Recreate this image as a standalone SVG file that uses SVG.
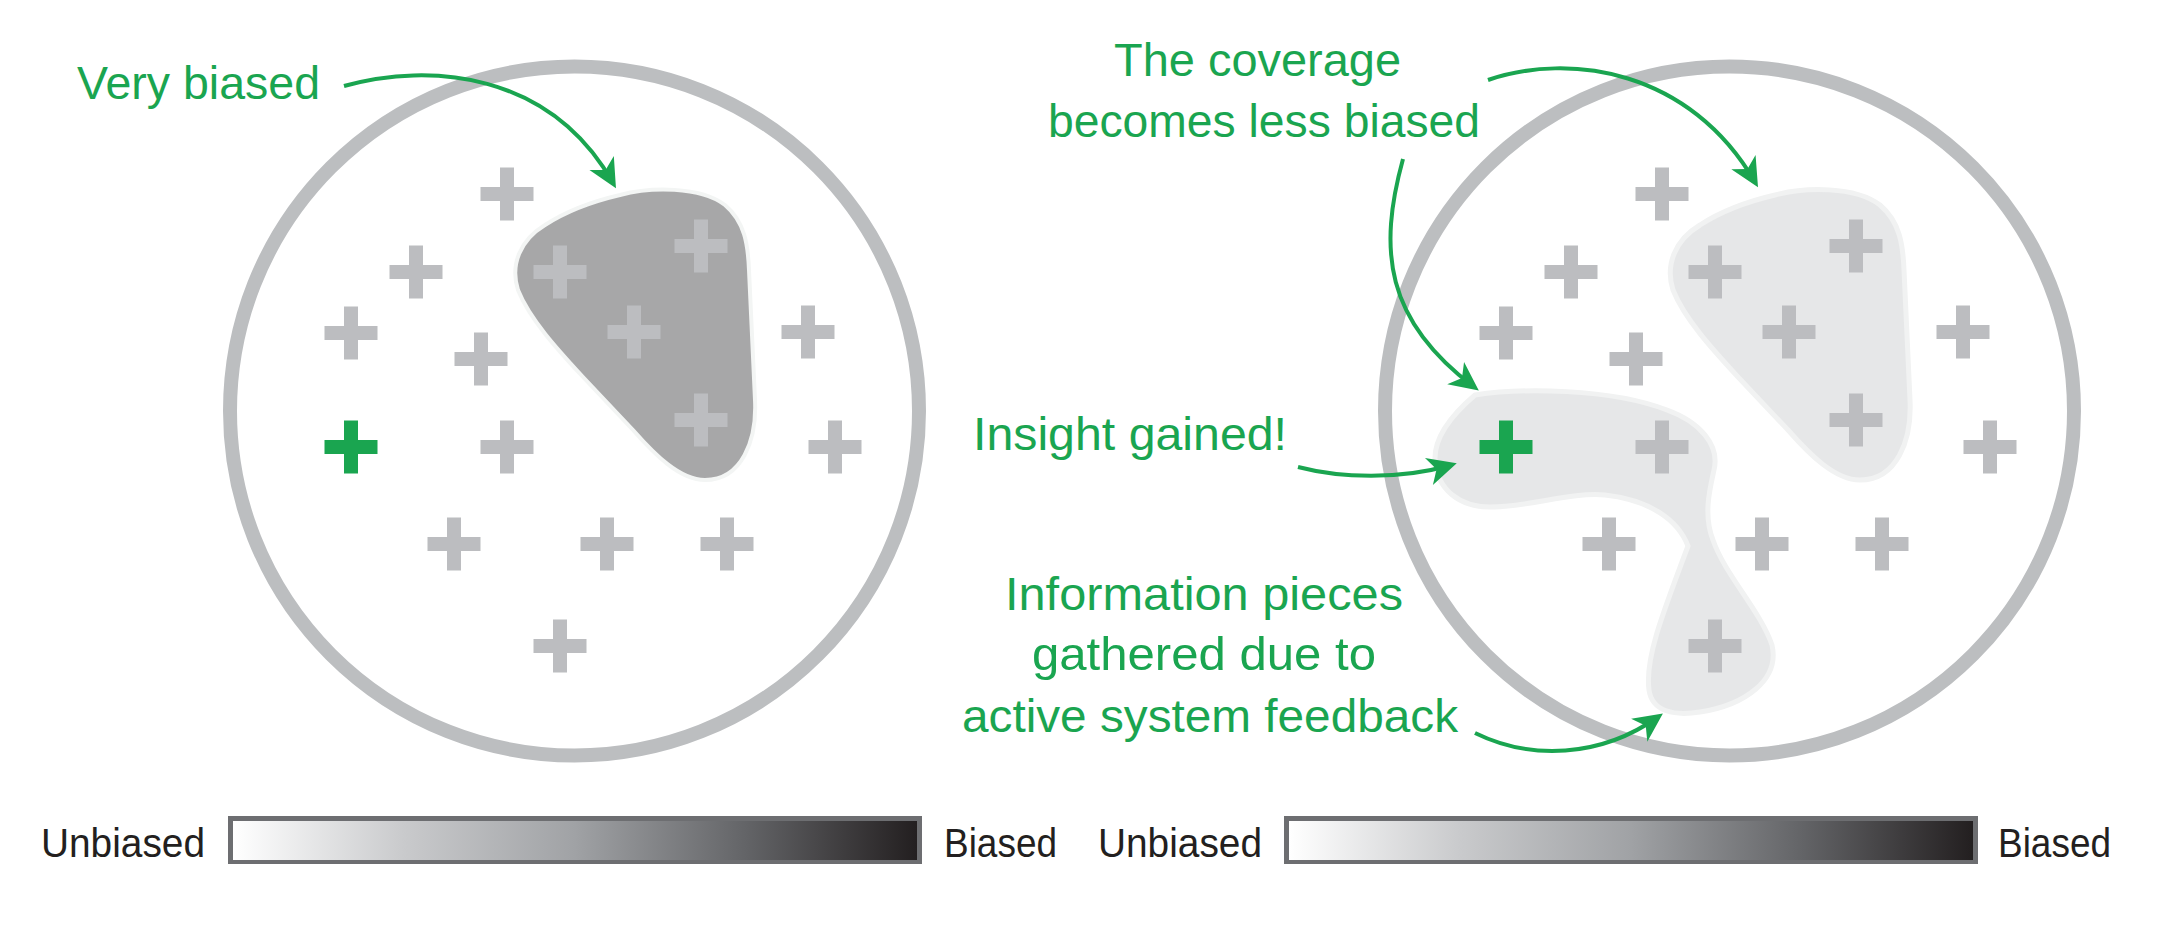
<svg xmlns="http://www.w3.org/2000/svg" xmlns:xlink="http://www.w3.org/1999/xlink" width="2174" height="926" viewBox="0 0 2174 926">
<style>
.ring{fill:none;stroke:#bcbec0;stroke-width:14}
.cross{fill:#bcbdc0}
.cross-g{fill:#1aa550}
.lbl{font-family:"Liberation Sans",Arial,sans-serif;font-size:47px;fill:#1aa550}
.scale{font-family:"Liberation Sans",Arial,sans-serif;font-size:40px;fill:#231f20}
.conn{fill:none;stroke:#1aa550;stroke-width:4;marker-end:url(#ah)}
.blobdark{fill:#a7a7a8;stroke:#f3f5f4;stroke-width:4}
.bloblight{fill:#e6e7e8;stroke:#f1f2f2;stroke-width:5}
.barframe{fill:#6d6e71}
</style>
<defs>
<path id="cr" d="M-7 -26.5h14v19.5h19.5v14h-19.5v19.5h-14v-19.5h-19.5v-14h19.5z"/>
<marker id="ah" markerUnits="userSpaceOnUse" viewBox="-30 -20 40 40" refX="0" refY="0" markerWidth="40" markerHeight="40" orient="auto" overflow="visible">
<path d="M6 0 L-23 -14 L-15 0 L-23 14 Z" fill="#1aa550"/>
</marker>
<linearGradient id="grad" x1="0" y1="0" x2="1" y2="0">
<stop offset="0" stop-color="#ffffff"/>
<stop offset="0.25" stop-color="#c9cacc"/>
<stop offset="0.5" stop-color="#a0a2a5"/>
<stop offset="0.75" stop-color="#636467"/>
<stop offset="1" stop-color="#231f20"/>
</linearGradient>
<path id="blobA" d="M620 195 C650 187 700 186 725 205 C745 222 748 245 749 270 L755 400 C757 440 742 480 705 480 C680 480 655 455 633 430 L583 377 C560 352 530 320 518 290 C510 265 520 240 545 225 C565 212 590 202 620 195 Z"/>
</defs>

<g id="left-panel">
<circle class="ring" cx="574.5" cy="411" r="344.5"/>
<use href="#blobA" class="blobdark"/>
<g id="left-crosses">
<use href="#cr" class="cross" x="507" y="194"/>
<use href="#cr" class="cross" x="416" y="272"/>
<use href="#cr" class="cross" x="351" y="333"/>
<use href="#cr" class="cross" x="481" y="359"/>
<use href="#cr" class="cross" x="560" y="272"/>
<use href="#cr" class="cross" x="701" y="246"/>
<use href="#cr" class="cross" x="634" y="332"/>
<use href="#cr" class="cross" x="701" y="420"/>
<use href="#cr" class="cross" x="808" y="332"/>
<use href="#cr" class="cross-g" x="351" y="447"/>
<use href="#cr" class="cross" x="507" y="447"/>
<use href="#cr" class="cross" x="835" y="447"/>
<use href="#cr" class="cross" x="454" y="544"/>
<use href="#cr" class="cross" x="607" y="544"/>
<use href="#cr" class="cross" x="727" y="544"/>
<use href="#cr" class="cross" x="560" y="646"/>
</g>
</g>

<g id="right-panel">
<circle class="ring" cx="1729.5" cy="411" r="344.5"/>
<use href="#blobA" class="bloblight" transform="translate(1155,0)"/>
<path class="bloblight" d="M1475 395 C1520 388 1610 388 1667 410 C1700 422 1720 445 1714 470 C1710 488 1703 515 1713 540 C1725 575 1760 610 1772 645 C1780 680 1745 705 1700 712 C1675 716 1652 712 1649 690 C1645 660 1660 620 1688 546 C1678 520 1650 500 1605 495 C1570 492 1530 507 1490 507 C1460 507 1437 490 1435 460 C1434 435 1455 412 1475 395 Z"/>
<g id="right-crosses">
<use href="#cr" class="cross" x="1662" y="194"/>
<use href="#cr" class="cross" x="1571" y="272"/>
<use href="#cr" class="cross" x="1506" y="333"/>
<use href="#cr" class="cross" x="1636" y="359"/>
<use href="#cr" class="cross" x="1715" y="272"/>
<use href="#cr" class="cross" x="1856" y="246"/>
<use href="#cr" class="cross" x="1789" y="332"/>
<use href="#cr" class="cross" x="1856" y="420"/>
<use href="#cr" class="cross" x="1963" y="332"/>
<use href="#cr" class="cross-g" x="1506" y="447"/>
<use href="#cr" class="cross" x="1662" y="447"/>
<use href="#cr" class="cross" x="1990" y="447"/>
<use href="#cr" class="cross" x="1609" y="544"/>
<use href="#cr" class="cross" x="1762" y="544"/>
<use href="#cr" class="cross" x="1882" y="544"/>
<use href="#cr" class="cross" x="1715" y="646"/>
</g>
</g>

<g id="label-very-biased"><text class="lbl" x="77" y="99" textLength="243" lengthAdjust="spacingAndGlyphs">Very biased</text></g>
<g id="label-coverage">
<text class="lbl" x="1114" y="76" textLength="287" lengthAdjust="spacingAndGlyphs">The coverage</text>
<text class="lbl" x="1048" y="137" textLength="432" lengthAdjust="spacingAndGlyphs">becomes less biased</text>
</g>
<g id="label-insight"><text class="lbl" x="973" y="450" textLength="314" lengthAdjust="spacingAndGlyphs">Insight gained!</text></g>
<g id="label-information">
<text class="lbl" x="1005" y="610" textLength="398" lengthAdjust="spacingAndGlyphs">Information pieces</text>
<text class="lbl" x="1032" y="670" textLength="344" lengthAdjust="spacingAndGlyphs">gathered due to</text>
<text class="lbl" x="962" y="732" textLength="496" lengthAdjust="spacingAndGlyphs">active system feedback</text>
</g>

<g id="connectors">
<path class="conn" d="M344 86 C430 62 550 72 613 183"/>
<path class="conn" d="M1488 80 C1570 52 1690 70 1755 182"/>
<path class="conn" d="M1403 159 C1378 250 1385 320 1474 387"/>
<path class="conn" d="M1298 467 C1340 478 1400 480 1451 465"/>
<path class="conn" d="M1475 733 C1530 760 1600 758 1658 717"/>
</g>

<g id="scale-left">
<text class="scale" x="41" y="857" textLength="164" lengthAdjust="spacingAndGlyphs">Unbiased</text>
<rect class="barframe" x="228" y="816" width="694" height="48"/>
<rect x="233" y="821" width="684" height="39" fill="url(#grad)"/>
<text class="scale" x="944" y="857" textLength="113" lengthAdjust="spacingAndGlyphs">Biased</text>
</g>
<g id="scale-right">
<text class="scale" x="1098" y="857" textLength="164" lengthAdjust="spacingAndGlyphs">Unbiased</text>
<rect class="barframe" x="1284" y="816" width="694" height="48"/>
<rect x="1289" y="821" width="684" height="39" fill="url(#grad)"/>
<text class="scale" x="1998" y="857" textLength="113" lengthAdjust="spacingAndGlyphs">Biased</text>
</g>
</svg>
